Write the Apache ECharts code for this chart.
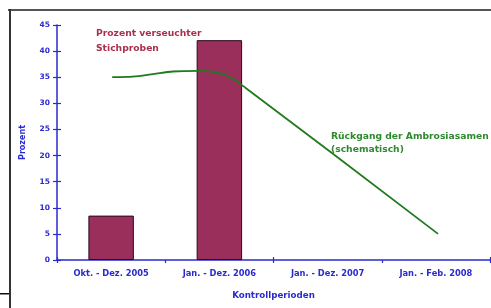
<!DOCTYPE html>
<html><head><meta charset="utf-8">
<script src="https://cdn.jsdelivr.net/npm/echarts@6/dist/echarts.min.js"></script>
<style>html,body{margin:0;padding:0;background:#fff}#c{width:491px;height:308px}</style>
</head><body><div id="c"></div>
<script>
const categories = ['Okt. - Dez. 2005', 'Jan. - Dez. 2006', 'Jan. - Dez. 2007', 'Jan. - Feb. 2008'];
const barValues = [8.5, 42.1, null, null];
const yTicks = {min: 0, max: 45, interval: 5};
// schematic decline line: x in category units (0..4), y in percent
const lineX = [0.51, 0.70, 0.89, 1.07, 1.32, 1.55, 1.74, 3.52];
const lineY = [35.0, 35.1, 35.6, 36.1, 36.2, 35.5, 33.0, 5.0];
const barLabel = ['Prozent verseuchter', 'Stichproben'];
const lineLabel = ['Rückgang der Ambrosiasamen', '(schematisch)'];
const yName = 'Prozent';
const xName = 'Kontrollperioden';

const blue = '#2a2ad0';
const font = 'DejaVu Sans, Liberation Sans, sans-serif';
const chart = echarts.init(document.getElementById('c'), null, {renderer: 'canvas'});
chart.setOption({
  backgroundColor: '#fff',
  animation: false,
  grid: {left: 57, right: 1, top: 25, bottom: 48, containLabel: false},
  xAxis: [{
    type: 'category', data: categories, boundaryGap: true, position: 'bottom',
    axisLine: {lineStyle: {color: blue, width: 1.5}},
    axisTick: {show: true, inside: false, length: 3, lineStyle: {color: blue, width: 1.2}},
    axisLabel: {color: blue, fontSize: 8.3, fontWeight: 'bold', fontFamily: font, margin: 10},
    name: xName, nameLocation: 'middle', nameGap: 31,
    nameTextStyle: {color: blue, fontSize: 8.7, fontWeight: 'bold', fontFamily: font},
    splitLine: {show: false}
  }, {
    type: 'value', min: 0, max: 4, show: false, gridIndex: 0, position: 'bottom'
  }, {
    type: 'category', data: categories, boundaryGap: true, position: 'bottom',
    axisLine: {show: false}, axisLabel: {show: false}, splitLine: {show: false},
    axisTick: {show: true, inside: true, length: 3, lineStyle: {color: blue, width: 1.2}}
  }],
  yAxis: [{
    type: 'value', min: yTicks.min, max: yTicks.max, interval: yTicks.interval, position: 'left',
    axisLine: {show: true, lineStyle: {color: blue, width: 1.5}},
    axisTick: {show: true, length: 4, lineStyle: {color: blue, width: 1.2}},
    axisLabel: {color: blue, fontSize: 7.5, fontWeight: 'bold', fontFamily: font, margin: 7},
    splitLine: {show: false},
    name: yName, nameLocation: 'middle', nameGap: 30, nameRotate: 90,
    nameTextStyle: {color: blue, fontSize: 8, fontWeight: 'bold', fontFamily: font}
  }, {
    type: 'value', min: yTicks.min, max: yTicks.max, interval: yTicks.interval, position: 'left',
    axisLine: {show: false}, axisLabel: {show: false}, splitLine: {show: false},
    axisTick: {show: true, inside: true, length: 4, lineStyle: {color: blue, width: 1.2}}
  }],
  series: [{
    type: 'bar', data: barValues, xAxisIndex: 0, barWidth: '42%',
    itemStyle: {color: '#9b2f5c', borderColor: '#2a0a14', borderWidth: 1}
  }, {
    type: 'line', xAxisIndex: 1, data: lineX.map((x, i) => [x, lineY[i]]),
    smooth: 0.3, showSymbol: false, symbol: 'none',
    lineStyle: {color: '#1f7a1f', width: 1.8}, z: 5
  }],
  graphic: [
    {type: 'rect', shape: {x: 8, y: 9, width: 483, height: 2}, style: {fill: '#555'}, silent: true},
    {type: 'rect', shape: {x: 9, y: 9, width: 2, height: 299}, style: {fill: '#333'}, silent: true},
    {type: 'rect', shape: {x: 0, y: 293, width: 9, height: 1.5}, style: {fill: '#111'}, silent: true},
    {type: 'text', left: 96, top: 26, style: {text: barLabel.join('\n'), fill: '#a8304e', font: 'bold 9.2px ' + font, lineHeight: 15}},
    {type: 'text', left: 331, top: 130, style: {text: lineLabel.join('\n'), fill: '#2e8a2e', font: 'bold 9.2px ' + font, lineHeight: 13}}
  ]
});
</script></body></html>
